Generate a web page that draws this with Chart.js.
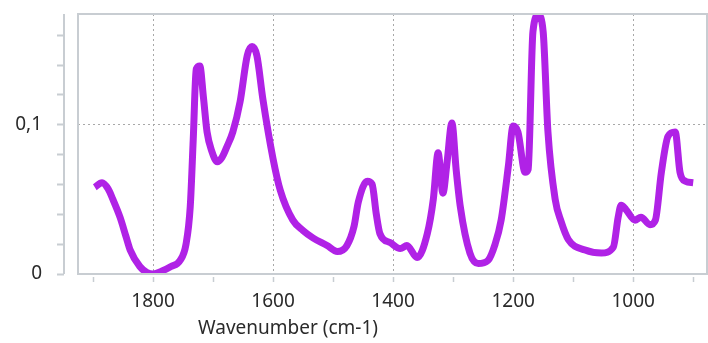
<!DOCTYPE html>
<html>
<head>
<meta charset="utf-8">
<script src="https://cdn.jsdelivr.net/npm/chart.js@4/dist/chart.umd.min.js"></script>
<style>
  html, body { margin: 0; padding: 0; background: #fff; }
  #wrap { width: 708px; height: 343px; }
</style>
</head>
<body>
<div id="wrap"><canvas id="spectrum"></canvas></div>
<script>
// spectrum
const wavenumbers = [1897, 1885, 1875, 1867, 1855, 1845, 1838, 1822, 1810, 1800, 1785, 1770, 1755, 1745, 1738, 1733, 1728, 1722, 1716, 1710, 1702, 1693, 1685, 1677, 1667, 1655, 1643, 1635, 1627, 1617, 1600, 1588, 1567, 1550, 1533, 1510, 1493, 1477, 1465, 1458, 1443, 1435, 1428, 1422, 1405, 1388, 1377, 1360, 1343, 1333, 1325, 1317, 1310, 1302, 1295, 1288, 1272, 1258, 1242, 1230, 1220, 1208, 1200, 1192, 1180, 1175, 1167, 1158, 1150, 1142, 1130, 1120, 1108, 1080, 1053, 1033, 1025, 1020, 1012, 997, 987, 972, 963, 953, 942, 930, 922, 913, 900];
const absorbance = [0.058, 0.061, 0.057, 0.050, 0.038, 0.025, 0.016, 0.005, 0.001, 0.000, 0.002, 0.005, 0.009, 0.020, 0.045, 0.090, 0.137, 0.139, 0.118, 0.095, 0.082, 0.075, 0.078, 0.085, 0.095, 0.115, 0.146, 0.152, 0.146, 0.117, 0.077, 0.056, 0.036, 0.029, 0.024, 0.019, 0.015, 0.019, 0.032, 0.048, 0.062, 0.060, 0.040, 0.027, 0.021, 0.017, 0.019, 0.011, 0.027, 0.050, 0.081, 0.054, 0.075, 0.101, 0.070, 0.045, 0.014, 0.007, 0.009, 0.020, 0.036, 0.072, 0.099, 0.095, 0.068, 0.070, 0.162, 0.173, 0.162, 0.095, 0.050, 0.035, 0.023, 0.016, 0.014, 0.018, 0.038, 0.046, 0.043, 0.036, 0.038, 0.033, 0.036, 0.068, 0.092, 0.095, 0.068, 0.062, 0.061];

const xTicks = [1900, 1800, 1700, 1600, 1500, 1400, 1300, 1200, 1100, 1000, 900];
const xLabels = ['', '1800', '', '1600', '', '1400', '', '1200', '', '1000', ''];
const yTicks = [0, 0.02, 0.04, 0.06, 0.08, 0.1, 0.12, 0.14, 0.16];
const yLabels = ['0', '', '', '', '', '0,1', '', '', ''];
const xTitle = 'Wavenumber (cm-1)';

const axisColor = '#c8cdd2';
const gridColor = '#a8a8a8';
const textColor = '#2a2a2a';
const fontFamily = '"Noto Sans", "Open Sans", sans-serif';

const frame = {
  id: 'frame',
  afterDraw(chart) {
    const { ctx, chartArea: a, scales } = chart;
    ctx.save();
    ctx.strokeStyle = axisColor;
    ctx.lineWidth = 2;
    ctx.strokeRect(a.left, a.top, a.right - a.left, a.bottom - a.top);

    // y axis stands off to the left of the plot box
    const ax = a.left - 14;
    ctx.beginPath();
    ctx.moveTo(ax, a.top);
    ctx.lineTo(ax, a.bottom);
    scales.y.ticks.forEach(t => {
      const py = Math.round(scales.y.getPixelForValue(t.value)) + 0.5;
      ctx.moveTo(ax - 7, py);
      ctx.lineTo(ax, py);
    });
    ctx.stroke();

    ctx.beginPath();
    ctx.lineWidth = 1.5;
    scales.x.ticks.forEach(t => {
      const px = Math.round(scales.x.getPixelForValue(t.value)) + 0.5;
      ctx.moveTo(px, a.bottom + 3);
      ctx.lineTo(px, a.bottom + 8);
    });
    ctx.stroke();

    ctx.fillStyle = textColor;
    ctx.font = '19px ' + fontFamily;
    ctx.textAlign = 'center';
    ctx.textBaseline = 'middle';
    ctx.fillText(xTitle, a.left + 210, 329);
    ctx.restore();
  }
};

new Chart(document.getElementById('spectrum'), {
  type: 'line',
  data: {
    datasets: [{
      data: wavenumbers.map((w, i) => ({ x: w, y: absorbance[i] })),
      borderColor: 'rgb(176, 34, 230)',
      borderWidth: 7,
      pointRadius: 0,
      cubicInterpolationMode: 'monotone',
      fill: false
    }]
  },
  options: {
    responsive: true,
    maintainAspectRatio: false,
    animation: false,
    layout: { padding: { top: 14, right: 1, bottom: 0, left: 0 } },
    plugins: { legend: { display: false }, tooltip: { enabled: false } },
    scales: {
      x: {
        type: 'linear',
        reverse: true,
        min: 877,
        max: 1925,
        afterBuildTicks: s => { s.ticks = xTicks.map(v => ({ value: v })); },
        afterFit: s => { s.height = 69; s.paddingLeft = 0; s.paddingRight = 0; },
        ticks: {
          autoSkip: false,
          maxRotation: 0,
          padding: 16,
          color: textColor,
          font: { family: fontFamily, size: 19 },
          callback: (v, i) => xLabels[i]
        },
        grid: {
          drawTicks: false,
          lineWidth: 1,
          color: c => (c.tick && c.tick.value % 200 === 0 && c.tick.value < 1900 && c.tick.value > 900) ? gridColor : 'rgba(0,0,0,0)'
        },
        border: { display: false, dash: [2, 3] }
      },
      y: {
        min: 0,
        max: 0.1738,
        afterBuildTicks: s => { s.ticks = yTicks.map(v => ({ value: v })); },
        afterFit: s => { s.width = 78; s.paddingTop = 0; s.paddingBottom = 0; },
        ticks: {
          autoSkip: false,
          padding: 36,
          color: textColor,
          font: { family: fontFamily, size: 19 },
          callback: (v, i) => yLabels[i]
        },
        grid: {
          drawTicks: false,
          lineWidth: 1,
          color: c => (c.tick && Math.abs(c.tick.value - 0.1) < 1e-6) ? gridColor : 'rgba(0,0,0,0)'
        },
        border: { display: false, dash: [2, 3] }
      }
    }
  },
  plugins: [frame]
});
</script>
</body>
</html>
